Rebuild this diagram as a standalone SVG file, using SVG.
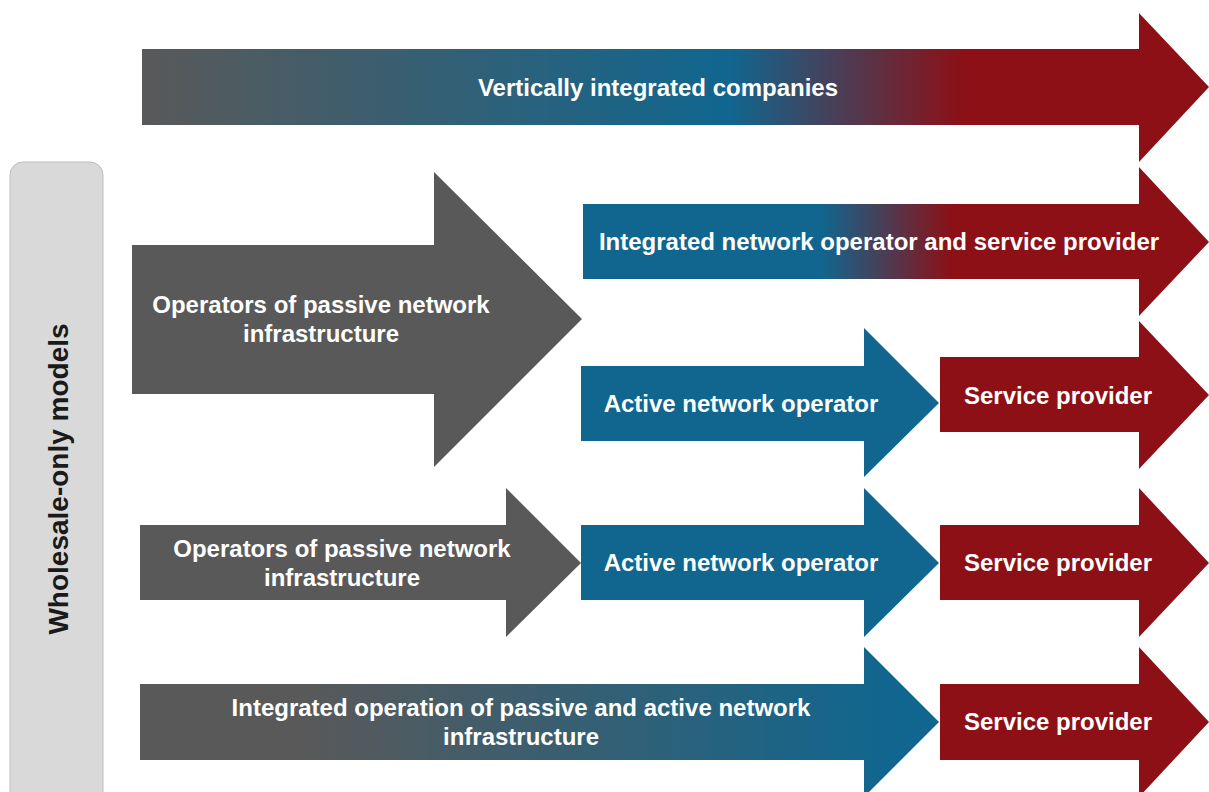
<svg xmlns="http://www.w3.org/2000/svg" width="1209" height="792" viewBox="0 0 1209 792">
  <defs>
    <linearGradient id="gTop" gradientUnits="userSpaceOnUse" x1="142" y1="0" x2="1209" y2="0">
      <stop offset="0" stop-color="#595959"/>
      <stop offset="0.55" stop-color="#10668f"/>
      <stop offset="0.77" stop-color="#8c1016"/>
      <stop offset="1" stop-color="#8c1016"/>
    </linearGradient>
    <linearGradient id="gInt" gradientUnits="userSpaceOnUse" x1="583" y1="0" x2="1209" y2="0">
      <stop offset="0" stop-color="#10668f"/>
      <stop offset="0.38" stop-color="#10668f"/>
      <stop offset="0.59" stop-color="#8c1016"/>
      <stop offset="1" stop-color="#8c1016"/>
    </linearGradient>
    <linearGradient id="gBot" gradientUnits="userSpaceOnUse" x1="140" y1="0" x2="939" y2="0">
      <stop offset="0" stop-color="#595959"/>
      <stop offset="0.2" stop-color="#595959"/>
      <stop offset="0.94" stop-color="#10668f"/>
      <stop offset="1" stop-color="#10668f"/>
    </linearGradient>
  </defs>
  <style>
    .lbl { font-family: "Liberation Sans", Arial, sans-serif; font-weight: bold; font-size: 24px; fill: #ffffff; text-anchor: middle; }
    .side { font-family: "Liberation Sans", Arial, sans-serif; font-weight: bold; font-size: 28px; fill: #1a1a1a; text-anchor: middle; }
    .gray { fill: #595959; }
    .blue { fill: #10668f; }
    .red { fill: #8c1016; }
  </style>
  <rect width="1209" height="792" fill="#ffffff"/>

  <g id="sidebar">
    <rect x="10" y="162" width="93" height="645" rx="13" ry="13" fill="#d9d9d9" stroke="#bdbdbd" stroke-width="1"/>
    <text class="side" transform="translate(68 479) rotate(-90)">Wholesale-only models</text>
  </g>

  <g id="vertically-integrated">
    <path d="M142 49 H1139 V13 L1209 87 L1139 162 V125 H142 Z" fill="url(#gTop)"/>
    <text class="lbl" x="658" y="96">Vertically integrated companies</text>
  </g>

  <g id="integrated-network-operator">
    <path d="M583 204 H1139 V167 L1209 242 L1139 316 V279 H583 Z" fill="url(#gInt)"/>
    <text class="lbl" x="879" y="250">Integrated network operator and service provider</text>
  </g>

  <g id="passive-operators-1">
    <path class="gray" d="M132 245 H434 V172 L582 319 L434 467 V394 H132 Z"/>
    <text class="lbl" x="321" y="313">Operators of passive network</text>
    <text class="lbl" x="321" y="342">infrastructure</text>
  </g>

  <g id="active-operator-1">
    <path class="blue" d="M581 366 H864 V328 L939 403 L864 477 V441 H581 Z"/>
    <text class="lbl" x="741" y="412">Active network operator</text>
  </g>

  <g id="service-provider-1">
    <path class="red" d="M940 357 H1139 V321 L1209 395 L1139 469 V432 H940 Z"/>
    <text class="lbl" x="1058" y="404">Service provider</text>
  </g>

  <g id="passive-operators-2">
    <path class="gray" d="M140 525 H506 V488 L581 563 L506 637 V600 H140 Z"/>
    <text class="lbl" x="342" y="557">Operators of passive network</text>
    <text class="lbl" x="342" y="586">infrastructure</text>
  </g>

  <g id="active-operator-2">
    <path class="blue" d="M581 525 H864 V488 L939 563 L864 637 V600 H581 Z"/>
    <text class="lbl" x="741" y="571">Active network operator</text>
  </g>

  <g id="service-provider-2">
    <path class="red" d="M940 525 H1139 V488 L1209 563 L1139 637 V600 H940 Z"/>
    <text class="lbl" x="1058" y="571">Service provider</text>
  </g>

  <g id="integrated-operation">
    <path d="M140 684 H864 V647 L939 722 L864 797 V760 H140 Z" fill="url(#gBot)"/>
    <text class="lbl" x="521" y="716">Integrated operation of passive and active network</text>
    <text class="lbl" x="521" y="745">infrastructure</text>
  </g>

  <g id="service-provider-3">
    <path class="red" d="M940 684 H1139 V647 L1209 722 L1139 797 V760 H940 Z"/>
    <text class="lbl" x="1058" y="730">Service provider</text>
  </g>
</svg>
